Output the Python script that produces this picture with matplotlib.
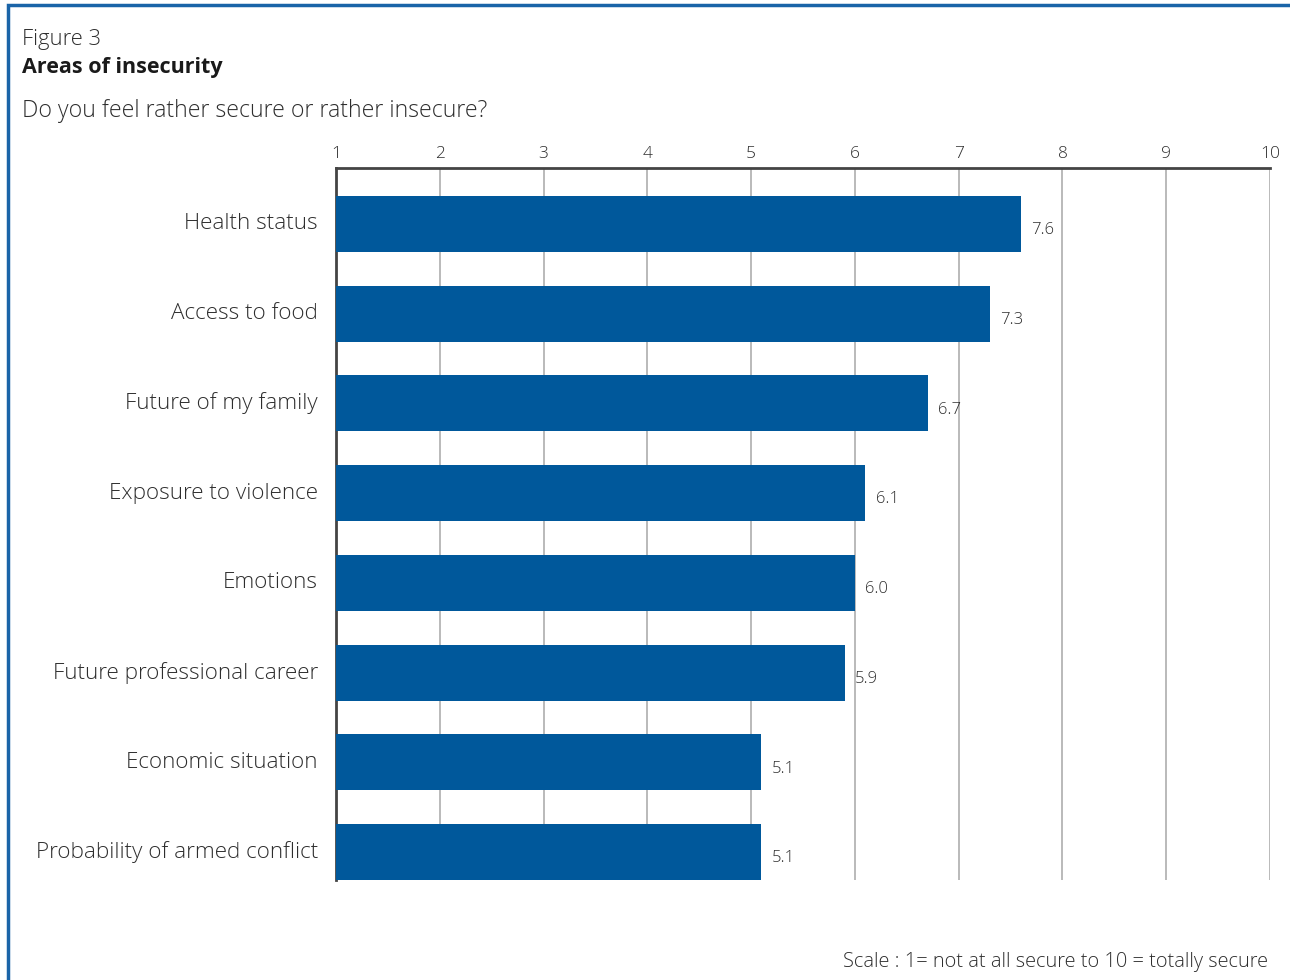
import numpy as np
import matplotlib.pyplot as plt
from matplotlib.patches import Rectangle

plt.rcParams['font.family'] = ['Open Sans', 'DejaVu Sans']
plt.rcParams['font.weight'] = 'light'

categories = ['Health status', 'Access to food', 'Future of my family',
              'Exposure to violence', 'Emotions', 'Future professional career',
              'Economic situation', 'Probability of armed conflict']
scores = [7.6, 7.3, 6.7, 6.1, 6.0, 5.9, 5.1, 5.1]
ticks = list(range(1, 11))

bar_color = '#00589b'
text_color = '#2e2e2e'

fig = plt.figure(figsize=(12.9, 9.8), dpi=100)

# blue frame round the figure, open to the right and bottom
fig.patches.append(Rectangle((8 / 1290, -0.1), 1.2, 1.1 - 5 / 980,
                             transform=fig.transFigure, fill=False,
                             edgecolor='#1a64a8', linewidth=2.5))

fig.text(22 / 1290, 1 - 39 / 980, 'Figure 3', fontsize=15.8, color=text_color,
         va='center', ha='left')
fig.text(22 / 1290, 1 - 68 / 980, 'Areas of insecurity', fontsize=15.5,
         fontweight='bold', color='#1a1a1a', va='center', ha='left')
fig.text(22 / 1290, 1 - 111 / 980, 'Do you feel rather secure or rather insecure?',
         fontsize=16.7, color=text_color, va='center', ha='left')
fig.text(1268 / 1290, 1 - 962 / 980,
         'Scale : 1= not at all secure to 10 = totally secure',
         fontsize=14.4, color=text_color, va='center', ha='right')

ax = fig.add_axes([336 / 1290, 1 - 880 / 980, (1270 - 336) / 1290, (880 - 168) / 980])
y = np.arange(len(categories))
ax.barh(y, [s - 1 for s in scores], left=1, height=0.625, color=bar_color, zorder=3)

for yi, s in zip(y, scores):
    ax.text(s + 0.1, yi + 0.07, f'{s:.1f}', fontsize=12, color=text_color,
            va='center', ha='left', zorder=4)

ax.set_xlim(1, 10)
ax.set_ylim(len(categories) - 1 + 0.312, -0.624)
ax.set_xticks(ticks)
ax.set_xticklabels([str(t) for t in ticks])
ax.xaxis.tick_top()
ax.tick_params(axis='x', length=0, pad=4, labelsize=12.5, labelcolor=text_color)
ax.set_yticks(y)
ax.set_yticklabels(categories)
ax.tick_params(axis='y', length=0, pad=13, labelsize=16.2, labelcolor=text_color)
for lab in ax.get_yticklabels():
    lab.set_verticalalignment('center')

ax.grid(axis='x', color='#b4b4b4', linewidth=1.3, zorder=0)
for side in ['right', 'bottom']:
    ax.spines[side].set_visible(False)
ax.spines['top'].set_color('#444444')
ax.spines['top'].set_linewidth(2)
ax.spines['left'].set_color('#444444')
ax.spines['left'].set_linewidth(2)

fig.savefig('out.png', dpi=100)
